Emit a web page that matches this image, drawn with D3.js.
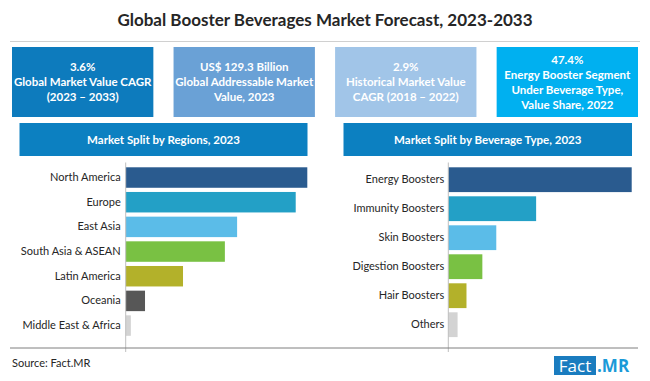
<!DOCTYPE html>
<html><head><meta charset="utf-8">
<script src="https://cdn.jsdelivr.net/npm/d3@7"></script>
<style>
html,body{margin:0;padding:0;background:#fff;}
svg{display:block;font-family:Lato,"Open Sans",sans-serif;}
</style></head>
<body>
<svg id="c" width="650" height="381"></svg>
<script>
const title = "Global Booster Beverages Market Forecast, 2023-2033";
const kpiLines = [
  ["3.6%", "Global Market Value CAGR", "(2023 \u2013 2033)"],
  ["US$ 129.3 Billion", "Global Addressable Market", "Value, 2023"],
  ["2.9%", "Historical Market Value", "CAGR (2018 \u2013 2022)"],
  ["47.4%", "Energy Booster Segment", "Under Beverage Type,", "Value Share, 2022"]
];
const kpiColors = ["#0d7bbd", "#6aa1d6", "#a1c5e8", "#00b0f0"];

const regionTitle = "Market Split by Regions, 2023";
const regions = ["North America", "Europe", "East Asia", "South Asia & ASEAN", "Latin America", "Oceania", "Middle East & Africa"];
const regionShare = [28.2, 26.4, 17.3, 15.4, 8.9, 3.0, 0.8];
const regionColors = ["#2a5b8f", "#23a0c6", "#5bbce8", "#79c143", "#b3b12a", "#575757", "#d3d3d3"];

const typeTitle = "Market Split by Beverage Type, 2023";
const types = ["Energy Boosters", "Immunity Boosters", "Skin Boosters", "Digestion Boosters", "Hair Boosters", "Others"];
const typeShare = [47.4, 22.7, 12.4, 8.8, 4.7, 2.4];
const typeColors = ["#2a5b8f", "#23a0c6", "#5bbce8", "#79c143", "#b3b12a", "#d3d3d3"];

const source = "Source: Fact.MR";

const svg = d3.select("#c");

// Title
svg.append("text").attr("x", 325).attr("y", 26).attr("text-anchor", "middle")
  .attr("font-size", 17).attr("font-weight", 700).attr("fill", "#262626").text(title);
svg.append("line").attr("x1", 10).attr("x2", 640).attr("y1", 41.5).attr("y2", 41.5)
  .attr("stroke", "#d0d0d0").attr("stroke-width", 1);

// KPI boxes
const kx = d3.scaleBand().domain(d3.range(4)).range([12, 638]).paddingInner(0.125);
kpiLines.forEach((lines, i) => {
  const g = svg.append("g");
  g.append("rect").attr("x", kx(i)).attr("y", 47).attr("width", kx.bandwidth()).attr("height", 70).attr("fill", kpiColors[i]);
  const lh = 15;
  const y0 = 82 - (lines.length - 1) * lh / 2;
  lines.forEach((t, j) => {
    g.append("text").attr("x", kx(i) + kx.bandwidth() / 2).attr("y", y0 + j * lh).attr("dy", "0.35em")
      .attr("text-anchor", "middle").attr("font-size", 11.5).attr("font-weight", 700).attr("fill", "#fff").text(t);
  });
});

function panel(cfg) {
  const g = svg.append("g");
  g.append("rect").attr("x", cfg.hx0).attr("y", 123).attr("width", cfg.hx1 - cfg.hx0).attr("height", 33).attr("fill", "#0c80c1");
  g.append("text").attr("x", (cfg.hx0 + cfg.hx1) / 2).attr("y", 139.5).attr("dy", "0.35em").attr("text-anchor", "middle")
    .attr("font-size", 11.5).attr("font-weight", 700).attr("fill", "#fff").text(cfg.title);
  const y = d3.scaleBand().domain(cfg.cats).range(cfg.yr).padding(cfg.pad);
  const x = d3.scaleLinear().domain([0, cfg.vals[0]]).range([cfg.ax, cfg.xmax]);
  g.selectAll("rect.bar").data(cfg.cats).join("rect").attr("class", "bar")
    .attr("x", x(0)).attr("y", d => y(d)).attr("height", y.bandwidth())
    .attr("width", (d, i) => x(cfg.vals[i]) - x(0)).attr("fill", (d, i) => cfg.colors[i]);
  const axis = g.append("g").attr("transform", `translate(${cfg.ax},0)`)
    .call(d3.axisLeft(y).tickSize(0).tickPadding(cfg.tp));
  axis.select(".domain").remove();
  axis.selectAll("text").attr("font-size", 11).attr("fill", "#262626").attr("font-family", "Lato,sans-serif");
  g.append("line").attr("x1", cfg.ax).attr("x2", cfg.ax).attr("y1", 162.5).attr("y2", 352)
    .attr("stroke", "#bfbfbf").attr("stroke-width", 1);
}
panel({hx0: 19.5, hx1: 307.5, title: regionTitle, cats: regions, vals: regionShare, colors: regionColors,
  yr: [163.1, 340], pad: 0.17, ax: 125.7, xmax: 307.3, tp: 5});
panel({hx0: 343.5, hx1: 632, title: typeTitle, cats: types, vals: typeShare, colors: typeColors,
  yr: [163.1, 341.3], pad: 0.145, ax: 448.3, xmax: 631.7, tp: 4});

// Bottom line
svg.append("line").attr("x1", 10).attr("x2", 638).attr("y1", 348).attr("y2", 348).attr("stroke", "#7f7f7f").attr("stroke-width", 1);
svg.append("text").attr("x", 12).attr("y", 367).attr("font-size", 11).attr("fill", "#262626").text(source);

// Logo
svg.append("rect").attr("x", 554).attr("y", 356).attr("width", 42).attr("height", 19).attr("fill", "#1a7cbf");
svg.append("text").attr("x", 575).attr("y", 366).attr("dy", "0.35em").attr("text-anchor", "middle")
  .attr("font-size", 17).attr("fill", "#fff").attr("font-family", "'Open Sans',sans-serif").text("Fact");
svg.append("text").attr("x", 597).attr("y", 366).attr("dy", "0.35em")
  .attr("font-size", 17).attr("font-weight", 700).attr("fill", "#1b9ad8").attr("font-family", "'Open Sans',sans-serif").text(".MR");
</script>
</body></html>
